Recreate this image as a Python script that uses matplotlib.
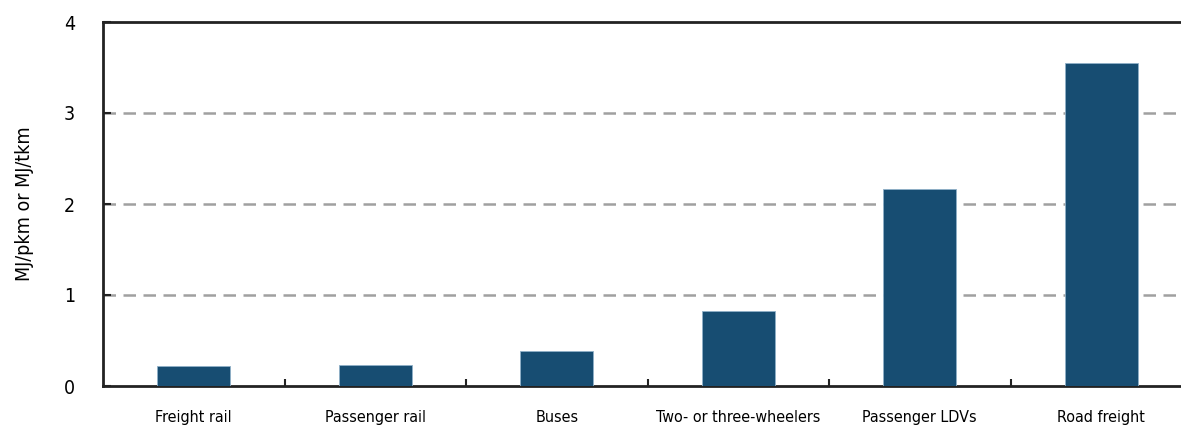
import matplotlib
matplotlib.use("Agg")
import matplotlib.pyplot as plt

categories = ["Freight rail", "Passenger rail", "Buses", "Two- or three-wheelers",
              "Passenger LDVs", "Road freight"]
values = [0.22, 0.23, 0.38, 0.82, 2.16, 3.55]
y_ticks = [0, 1, 2, 3, 4]

BAR = "#174D72"
plt.rcParams["font.family"] = ["DejaVu Sans"]
plt.rcParams["font.stretch"] = "condensed"

fig = plt.figure(figsize=(11.81, 4.25), dpi=100)
ax = fig.add_axes([103 / 1181, 39 / 425, 1089 / 1181, 364 / 425])

x = list(range(len(categories)))
ax.bar(x, values, width=0.4, color=BAR, edgecolor="#8fb0c8", linewidth=0.6, zorder=3)

ax.set_xlim(-0.5, len(categories) - 0.5)
ax.set_ylim(0, 4)
ax.set_yticks(y_ticks)
for v in y_ticks[1:-1]:
    ax.axhline(v, color="#a0a0a0", lw=1.8, ls=(0, (5, 3)), zorder=1)

ax.set_xticks(x)
ax.set_xticklabels(categories, fontsize=11.5, fontstretch="condensed")
ax.set_xticks([i + 0.5 for i in x[:-1]], minor=True)
ax.tick_params(axis="x", which="major", length=0, pad=17)
ax.tick_params(axis="x", which="minor", direction="in", length=5, width=1.5, color="#222222")
ax.tick_params(axis="y", direction="in", length=6, width=1.5, color="#222222",
               labelsize=14, pad=20)

for s in ("left", "bottom", "top"):
    ax.spines[s].set_linewidth(2)
    ax.spines[s].set_color("#222222")
ax.spines["right"].set_visible(False)

ax.set_ylabel("MJ/pkm or MJ/tkm", fontsize=14, labelpad=22, fontstretch="condensed")

fig.savefig("out.png", dpi=100)
